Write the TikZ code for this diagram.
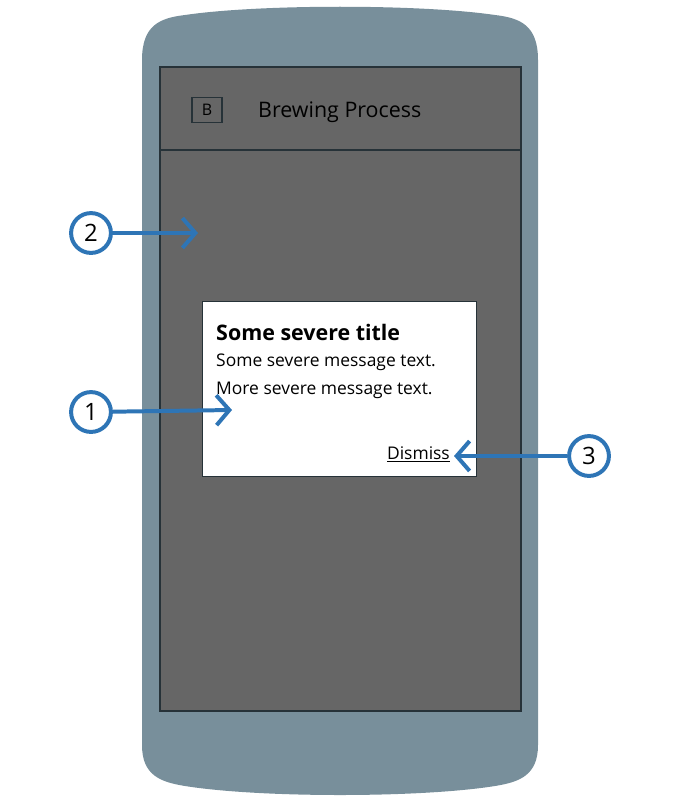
\documentclass[tikz,border=0pt]{standalone}
\usepackage{fontspec}
\setmainfont{Open Sans}
\usetikzlibrary{arrows.meta}
\definecolor{phone}{RGB}{120,143,155}
\definecolor{screen}{RGB}{102,102,102}
\definecolor{edge}{RGB}{38,50,56}
\definecolor{callout}{RGB}{46,117,182}

\begin{document}
\begin{tikzpicture}[
    x=1bp, y=-1bp,
    >={Straight Barb[length=13pt, width=30pt]},
    frame/.style={draw=edge, line width=1.5pt},
    bubble/.style={circle, draw=callout, fill=white, line width=4pt,
        minimum size=40pt, inner sep=0pt, font=\fontsize{24}{28}\selectfont},
    pointer/.style={->, callout, line width=4pt},
    msg/.style={anchor=west, inner sep=0pt, font=\fontsize{17.5}{20}\selectfont}
]
    \useasboundingbox (0,0) rectangle (680,800);

    % Phone body
    \fill[phone] (142,60) .. controls (142,25) and (160,18) .. (185,15)
        .. controls (260,4) and (420,4) .. (495,15)
        .. controls (520,18) and (538,25) .. (538,60) -- (538,745)
        .. controls (538,775) and (520,782) .. (495,786)
        .. controls (420,798) and (260,798) .. (185,786)
        .. controls (160,782) and (142,775) .. (142,745) -- cycle;

    % Screen and app bar
    \draw[frame, fill=screen] (160,67) rectangle (521,711);
    \draw[frame] (160,150) -- (521,150);
    \node[draw=edge, line width=1.2pt, minimum width=30pt, minimum height=25pt,
        inner sep=0pt, font=\fontsize{16}{18}\selectfont] (logo) at (207,110) {B};
    \node[anchor=west, inner sep=0pt, font=\fontsize{21.5}{24}\selectfont] (apptitle) at (258,112) {Brewing Process};

    % Dialog
    \node[frame, fill=white, minimum width=275pt, minimum height=176pt, inner sep=0pt] (dialog) at (339.5,389) {};
    \node[msg, font=\bfseries\fontsize{21.5}{24}\selectfont] (title) at (216,332) {Some severe title};
    \node[msg] (line1) at (216,362) {Some severe message text.};
    \node[msg] (line2) at (216,390) {More severe message text.};
    \node[msg, anchor=east] (dismiss) at (450,454) {\underline{Dismiss}};

    % Callouts
    \node[bubble] (c2) at (91,233) {2};
    \node[bubble] (c1) at (91,412) {1};
    \node[bubble] (c3) at (589,456) {3};
    \coordinate (t2) at (198,233);
    \coordinate (t1) at (232,410);
    \coordinate (t3) at (454,456);
    \draw[pointer] (c2) -- (t2);
    \draw[pointer] (c1) -- (t1);
    \draw[pointer] (c3) -- (t3);
\end{tikzpicture}
\end{document}
